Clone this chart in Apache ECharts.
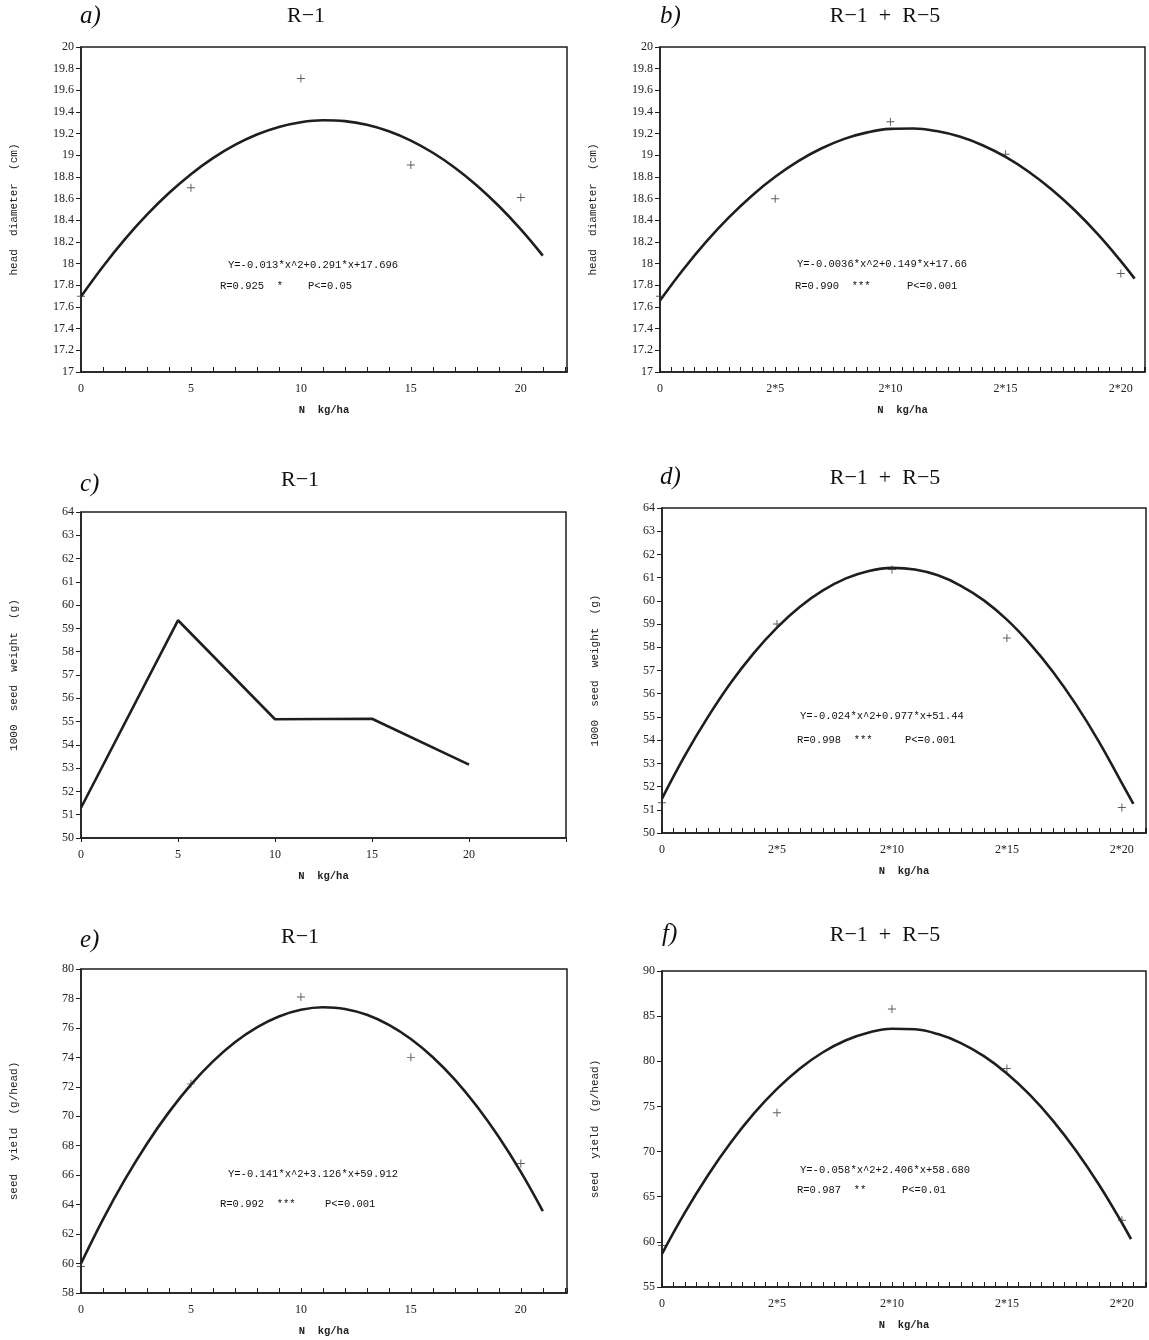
<!DOCTYPE html>
<html><head><meta charset="utf-8">
<script src="https://cdn.jsdelivr.net/npm/echarts@6/dist/echarts.min.js"></script>
<style>html,body{margin:0;padding:0;background:#fff}#c{width:1149px;height:1340px}</style>
</head><body><div id="c"></div><script>
// ---------- tick labels ----------
const xTickValsR1 = [0, 5, 10, 15, 20];
const xTickLabsR1 = ['0', '5', '10', '15', '20'];
const xTickValsR15 = [0, 10, 20, 30, 40];
const xTickLabsR15 = ['0', '2*5', '2*10', '2*15', '2*20'];

// ---------- panel a: head diameter, R-1 ----------
const ptsAx = [0, 5, 10, 15, 20];
const ptsAy = [17.7, 18.7, 19.71, 18.91, 18.61];
const fitAx = [0,1,2,3,4,5,6,7,8,9,10,11,12,13,14,15,16,17,18,19,20,21];
const fitAy = [17.696,17.974,18.226,18.452,18.652,18.826,18.974,19.096,19.192,19.262,19.306,19.324,19.316,19.282,19.222,19.136,19.024,18.886,18.722,18.532,18.316,18.074];

// ---------- panel b: head diameter, R-1 + R-5 ----------
const ptsBx = [0, 10, 20, 30, 40];
const ptsBy = [17.7, 18.6, 19.31, 19.01, 17.91];
const fitBx = [0,2,4,6,8,10,12,14,16,18,20,22,24,26,28,30,32,34,36,38,40,41.2];
const fitBy = [17.66,17.944,18.201,18.429,18.630,18.802,18.947,19.063,19.152,19.212,19.244,19.248,19.224,19.173,19.093,18.985,18.849,18.685,18.493,18.272,18.024,17.862];

// ---------- panel c: 1000 seed weight, R-1 ----------
const lineCx = [0, 5, 10, 15, 20];
const lineCy = [51.3, 59.35, 55.1, 55.12, 53.15];

// ---------- panel d: 1000 seed weight, R-1 + R-5 ----------
const ptsDx = [0, 10, 20, 30, 40];
const ptsDy = [51.3, 59.0, 61.35, 58.4, 51.1];
const fitDx = [0,2,4,6,8,10,12,14,16,18,20,22,24,26,28,30,32,34,36,38,40,41];
const fitDy = [51.48,53.34,55.00,56.48,57.76,58.85,59.75,60.45,60.97,61.29,61.42,61.35,61.10,60.65,60.02,59.19,58.16,56.95,55.54,53.94,52.15,51.25];

// ---------- panel e: seed yield, R-1 ----------
const ptsEx = [0, 5, 10, 15, 20];
const ptsEy = [59.8, 72.2, 78.1, 74.0, 66.8];
const fitEx = [0,1,2,3,4,5,6,7,8,9,10,11,12,13,14,15,16,17,18,19,20,21];
const fitEy = [60.00,63.00,65.71,68.14,70.28,72.15,73.73,75.03,76.04,76.78,77.23,77.40,77.29,76.89,76.21,75.25,74.01,72.49,70.68,68.59,66.22,63.56];

// ---------- panel f: seed yield, R-1 + R-5 ----------
const ptsFx = [0, 10, 20, 30, 40];
const ptsFy = [59.6, 74.3, 85.8, 79.2, 62.4];
const fitFx = [0,2,4,6,8,10,12,14,16,18,20,22,24,26,28,30,32,34,36,38,40,40.8];
const fitFy = [58.68,63.26,67.38,71.03,74.22,76.94,79.20,81.00,82.33,83.19,83.60,83.54,83.01,82.02,80.57,78.66,76.28,73.43,70.12,66.35,62.12,60.29];

// ---------- texts ----------
const panelLetters = ['a)', 'b)', 'c)', 'd)', 'e)', 'f)'];
const panelTitles = ['R\u22121', 'R\u22121  +  R\u22125', 'R\u22121', 'R\u22121  +  R\u22125', 'R\u22121', 'R\u22121  +  R\u22125'];
const yNames = ['head  diameter  (cm)', 'head  diameter  (cm)', '1000  seed  weight  (g)', '1000  seed  weight  (g)', 'seed  yield  (g/head)', 'seed  yield  (g/head)'];
const xName = 'N  kg/ha';
const eqTexts = ['Y=-0.013*x^2+0.291*x+17.696', 'Y=-0.0036*x^2+0.149*x+17.66', null, 'Y=-0.024*x^2+0.977*x+51.44', 'Y=-0.141*x^2+3.126*x+59.912', 'Y=-0.058*x^2+2.406*x+58.680'];
const rTexts = ['R=0.925  *', 'R=0.990  ***', null, 'R=0.998  ***', 'R=0.992  ***', 'R=0.987  **'];
const pTexts = ['P<=0.05', 'P<=0.001', null, 'P<=0.001', 'P<=0.001', 'P<=0.01'];

// ---------- layout (positions/styles only) ----------
const grids = [
  {left: 81, top: 47, width: 486, height: 325},
  {left: 660, top: 47, width: 485, height: 325},
  {left: 81, top: 512, width: 485, height: 326},
  {left: 662, top: 508, width: 485, height: 325},
  {left: 81, top: 969, width: 486, height: 324},
  {left: 662, top: 971, width: 485, height: 316}
];
const yRanges = [[17, 20, 0.2], [17, 20, 0.2], [50, 64, 1], [50, 64, 1], [58, 80, 2], [55, 90, 5]];
const xRanges = [[22.1, 1], [42.1, 1], [25, 5], [42.1, 1], [22.1, 1], [42.1, 1]];
const xTickSets = [[xTickValsR1, xTickLabsR1], [xTickValsR15, xTickLabsR15], [xTickValsR1, xTickLabsR1], [xTickValsR15, xTickLabsR15], [xTickValsR1, xTickLabsR1], [xTickValsR15, xTickLabsR15]];
const titlePos = [
  [80, 16, 306, 16], [660, 16, 885, 16],
  [80, 484, 300, 480], [660, 477, 885, 478],
  [80, 940, 300, 937], [662, 934, 885, 935]
];
const eqPos = [
  [228, 265, 220, 286, 308], [797, 264, 795, 286, 907],
  null, [800, 716, 797, 740, 905],
  [228, 1174, 220, 1204, 325], [800, 1170, 797, 1190, 902]
];

const INK = '#1e1e1e';
const LBL = "'Liberation Serif', serif";
const MONO = "'Liberation Mono', monospace";

const option = {
  backgroundColor: '#fff',
  animation: false,
  grid: grids.map(g => Object.assign({show: true, borderColor: INK, borderWidth: 1.5, backgroundColor: 'transparent', containLabel: false}, g)),
  xAxis: xRanges.map((r, i) => {
    const vals = xTickSets[i][0], labs = xTickSets[i][1];
    return {
      type: 'value', gridIndex: i, min: 0, max: r[0], interval: r[1],
      axisLine: {show: true, onZero: false, lineStyle: {color: INK, width: 1.5}},
      axisTick: {show: true, inside: i !== 2, length: i === 2 ? 4 : 5, lineStyle: {color: INK, width: 1}},
      splitLine: {show: false},
      axisLabel: {
        margin: 11, fontFamily: LBL, fontSize: 12, color: '#222',
        formatter: v => { const k = vals.indexOf(Math.round(v * 1000) / 1000); return k >= 0 ? labs[k] : ''; }
      },
      name: xName, nameLocation: 'middle', nameGap: 33,
      nameTextStyle: {fontFamily: MONO, fontSize: 10.5, color: '#222', fontWeight: 'bold'}
    };
  }),
  yAxis: yRanges.map((r, i) => ({
    type: 'value', gridIndex: i, min: r[0], max: r[1], interval: r[2],
    axisLine: {show: true, onZero: false, lineStyle: {color: INK, width: 1.5}},
    axisTick: {show: true, inside: false, length: 5, lineStyle: {color: INK, width: 1}},
    splitLine: {show: false},
    axisLabel: {margin: 7, fontFamily: LBL, fontSize: 12, color: '#222'},
    name: yNames[i], nameLocation: 'middle', nameGap: 61, nameRotate: 90,
    nameTextStyle: {fontFamily: MONO, fontSize: 11, color: '#222'}
  })),
  series: [],
  graphic: []
};

const plus = 'path://M0,4.4H10V5.6H0Z M4.4,0H5.6V10H4.4Z';
function pairs(xs, ys) { return xs.map((x, k) => [x, ys[k]]); }
function addFit(i, xs, ys, smooth) {
  option.series.push({type: 'line', xAxisIndex: i, yAxisIndex: i, data: pairs(xs, ys), smooth: smooth, showSymbol: false,
    lineStyle: {color: INK, width: 2.6}, z: 2});
}
function addPts(i, xs, ys) {
  option.series.push({type: 'scatter', xAxisIndex: i, yAxisIndex: i, data: pairs(xs, ys), symbol: plus, symbolSize: 8,
    itemStyle: {color: '#333'}, z: 3});
}
addFit(0, fitAx, fitAy, 0.4);  addPts(0, ptsAx, ptsAy);
addFit(1, fitBx, fitBy, 0.4);  addPts(1, ptsBx, ptsBy);
addFit(2, lineCx, lineCy, false);
addFit(3, fitDx, fitDy, 0.4);  addPts(3, ptsDx, ptsDy);
addFit(4, fitEx, fitEy, 0.4);  addPts(4, ptsEx, ptsEy);
addFit(5, fitFx, fitFy, 0.4);  addPts(5, ptsFx, ptsFy);

function txt(text, x, y, font, align) {
  return {type: 'text', x: x, y: y, style: {text: text, font: font, fill: '#111', align: align, verticalAlign: 'middle', textAlign: align, textVerticalAlign: 'middle'}};
}
for (let i = 0; i < 6; i++) {
  const p = titlePos[i];
  option.graphic.push(txt(panelLetters[i], p[0], p[1], "italic 25px 'Liberation Serif', serif", 'left'));
  option.graphic.push(txt(panelTitles[i], p[2], p[3], "22px 'Liberation Serif', serif", 'center'));
  if (eqTexts[i]) {
    const e = eqPos[i];
    option.graphic.push(txt(eqTexts[i], e[0], e[1], "10.5px 'Liberation Mono', monospace", 'left'));
    option.graphic.push(txt(rTexts[i], e[2], e[3], "10.5px 'Liberation Mono', monospace", 'left'));
    option.graphic.push(txt(pTexts[i], e[4], e[3], "10.5px 'Liberation Mono', monospace", 'left'));
  }
}

const chart = echarts.init(document.getElementById('c'), null, {renderer: 'canvas'});
chart.setOption(option);
</script></body></html>
